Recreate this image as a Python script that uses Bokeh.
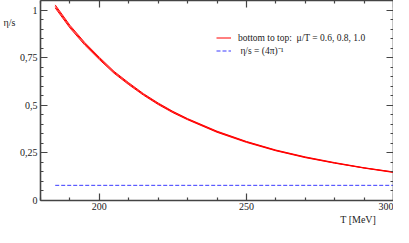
from bokeh.plotting import figure
from bokeh.models import (Range1d, LinearAxis, FixedTicker, Legend, LegendItem)
from bokeh.embed import file_html
from bokeh.resources import INLINE

# Data
T = [185, 190, 195, 200, 205, 210, 215, 220, 225, 230, 240, 250, 260, 270, 280, 290, 300]
eta_s_mu10 = [1.027, 0.920, 0.830, 0.752, 0.678, 0.618, 0.561, 0.512, 0.468, 0.430, 0.364, 0.310, 0.265, 0.229, 0.199, 0.172, 0.150]
eta_s_mu08 = [1.019, 0.913, 0.824, 0.746, 0.673, 0.613, 0.557, 0.508, 0.465, 0.427, 0.361, 0.308, 0.263, 0.227, 0.197, 0.171, 0.149]
eta_s_mu06 = [1.011, 0.906, 0.817, 0.740, 0.668, 0.608, 0.553, 0.504, 0.461, 0.424, 0.358, 0.305, 0.261, 0.225, 0.196, 0.170, 0.147]
kss_T = [185, 300]
kss_val = [0.0796, 0.0796]

x_major = [200, 250, 300]
x_minor = [180, 190, 210, 220, 230, 240, 260, 270, 280, 290]
y_major = [0, 0.25, 0.5, 0.75, 1.0]
y_major_labels = ["0", "0,25", "0,5", "0,75", "1"]
y_minor = [0.05, 0.1, 0.15, 0.2, 0.3, 0.35, 0.4, 0.45, 0.55, 0.6, 0.65, 0.7, 0.8, 0.85, 0.9, 0.95]
y_title = "\u03b7/s"
y_title_at = 0.935
x_title = "T [MeV]"
x_title_at = 288

FONT = "Liberation Serif"
AXC = "#444444"
TXC = "#222222"

p = figure(width=393, height=227, output_backend="svg", toolbar_location=None,
           x_range=Range1d(180, 300), y_range=Range1d(0, 1.05),
           x_axis_location=None, y_axis_location=None,
           min_border_left=0, min_border_right=0, min_border_top=0, min_border_bottom=0)
p.grid.visible = False
p.outline_line_color = None
p.background_fill_color = "white"
p.border_fill_color = "white"

xt = FixedTicker(ticks=x_major, minor_ticks=x_minor)
yt = FixedTicker(ticks=y_major, minor_ticks=y_minor)

def style(ax, labels=True):
    ax.axis_line_color = AXC
    ax.axis_line_width = 1.6
    ax.major_tick_line_color = AXC
    ax.minor_tick_line_color = AXC
    ax.major_tick_line_width = 1.2
    ax.minor_tick_line_width = 1.2
    ax.major_tick_in = 7
    ax.major_tick_out = 0
    ax.minor_tick_in = 3
    ax.minor_tick_out = 0
    ax.major_label_text_font = FONT
    if labels:
        ax.major_label_text_font_size = "10px"
        ax.major_label_text_color = TXC
        ax.major_label_standoff = 2
    else:
        ax.major_label_text_font_size = "1px"
        ax.major_label_text_color = None
        ax.major_label_standoff = 0

def title_axis(ax):
    ax.axis_line_color = None
    ax.major_tick_line_color = None
    ax.minor_tick_line_color = None
    ax.major_tick_in = 0
    ax.major_tick_out = 0
    ax.minor_tick_in = 0
    ax.minor_tick_out = 0
    ax.major_label_text_font = FONT
    ax.major_label_text_font_size = "10px"
    ax.major_label_text_color = TXC
    ax.major_label_standoff = 1

bx = LinearAxis(ticker=xt); style(bx); p.add_layout(bx, "below")
bt = LinearAxis(ticker=FixedTicker(ticks=[x_title_at], minor_ticks=[]),
                major_label_overrides={x_title_at: x_title})
title_axis(bt); p.add_layout(bt, "below")
tx = LinearAxis(ticker=xt); style(tx, False); p.add_layout(tx, "above")
ly = LinearAxis(ticker=yt, major_label_overrides={v: s for v, s in zip(y_major, y_major_labels)})
style(ly); ly.major_label_standoff = 3; p.add_layout(ly, "left")
lt = LinearAxis(ticker=FixedTicker(ticks=[y_title_at], minor_ticks=[]),
                major_label_overrides={y_title_at: y_title})
title_axis(lt); p.add_layout(lt, "left")
ry = LinearAxis(ticker=yt); style(ry, False); p.add_layout(ry, "right")

r06 = p.line(T, eta_s_mu06, line_color="red", line_width=1.0)
r08 = p.line(T, eta_s_mu08, line_color="red", line_width=1.0)
r10 = p.line(T, eta_s_mu10, line_color="red", line_width=1.0)
rk = p.line(kss_T, kss_val, line_color="#3a3aff", line_width=1, line_dash="4 2")

legend = Legend(items=[LegendItem(label="bottom to top:  \u03bc/T = 0.6, 0.8, 1.0", renderers=[r10]),
                       LegendItem(label=" \u03b7/s = (4\u03c0)\u207b\u00b9", renderers=[rk])],
                location=(176, 143), padding=0, margin=0, spacing=0,
                glyph_width=15, glyph_height=13, label_height=13, label_standoff=7,
                label_text_font=FONT, label_text_font_size="9.5px", label_text_color=TXC,
                border_line_color=None, background_fill_alpha=0)
p.add_layout(legend)

open("out.html", "w").write(file_html(p, INLINE))
